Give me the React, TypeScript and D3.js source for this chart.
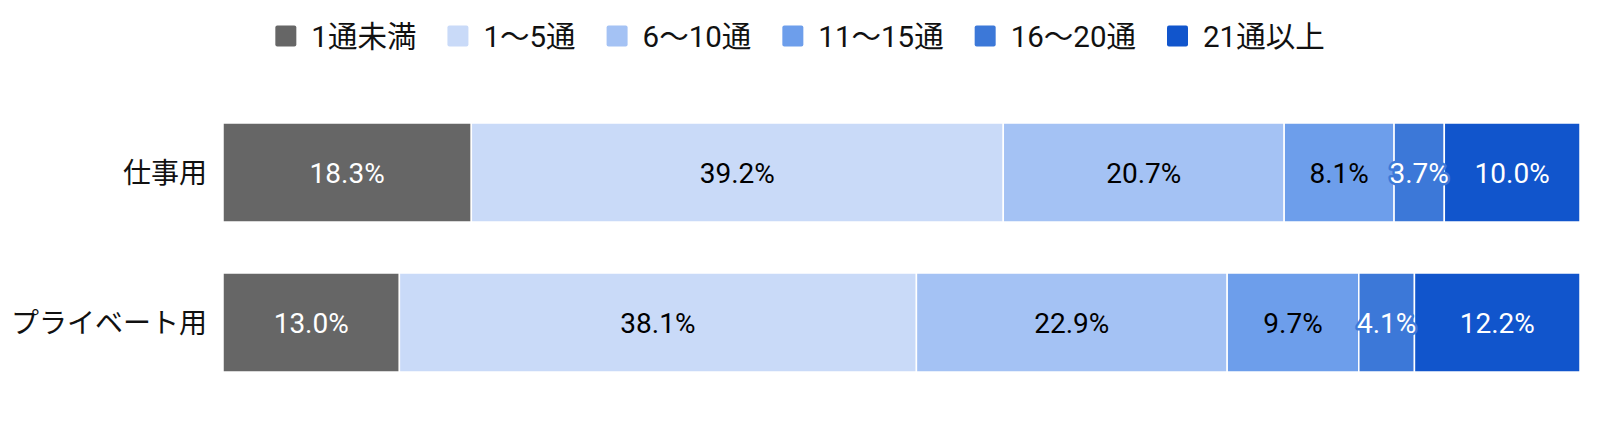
import React, { useEffect, useRef } from 'react';
import * as d3 from 'd3';

const categories = ['仕事用', 'プライベート用'];
const seriesNames = ['1通未満', '1～5通', '6～10通', '11～15通', '16～20通', '21通以上'];
const seriesColors = ['#666666', '#c9daf8', '#a4c2f4', '#6d9eeb', '#3c78d8', '#1155cc'];
const labelColors = ['#ffffff', '#000000', '#000000', '#000000', '#ffffff', '#ffffff'];
const workValues = [18.3, 39.2, 20.7, 8.1, 3.7, 10.0];
const privateValues = [13.0, 38.1, 22.9, 9.7, 4.1, 12.2];

const WIDTH = 1600;
const HEIGHT = 448;
const FONT = "Roboto, 'Noto Sans CJK JP', sans-serif";
const FONT_SIZE = 28;

interface Row {
    category: string;
    [key: string]: number | string;
}

export default function App() {
    const svgRef = useRef<SVGSVGElement>(null);

    useEffect(() => {
        if (!svgRef.current) return;
        const svg = d3.select(svgRef.current);
        svg.selectAll('*').remove();

        const plot = { top: 123, bottom: 372, left: 223, right: 1580 };

        const rows: Row[] = categories.map((c, i) => {
            const vals = i === 0 ? workValues : privateValues;
            const r: Row = { category: c };
            seriesNames.forEach((s, j) => { r[s] = vals[j]; });
            return r;
        });

        const stacked = d3.stack<Row>().keys(seriesNames)(rows);

        const x = d3.scaleLinear()
            .domain([0, 100])
            .range([plot.left, plot.right]);

        const y = d3.scaleBand<string>()
            .domain(categories)
            .range([plot.top, plot.bottom])
            .paddingInner(0.34)
            .paddingOuter(0);

        // Bars
        const layer = svg.append('g')
            .selectAll('g')
            .data(stacked)
            .join('g')
            .attr('fill', (_d, i) => seriesColors[i]);

        layer.selectAll('rect')
            .data(d => d.map(p => ({ p, key: d.key })))
            .join('rect')
            .attr('x', d => x(d.p[0]))
            .attr('y', d => y(d.p.data.category as string)!)
            .attr('width', d => x(d.p[1]) - x(d.p[0]))
            .attr('height', y.bandwidth())
            .attr('stroke', '#ffffff')
            .attr('stroke-width', 1.5);

        // Value labels
        stacked.forEach((s, i) => {
            svg.append('g')
                .selectAll('text')
                .data(s)
                .join('text')
                .attr('x', d => (x(d[0]) + x(d[1])) / 2)
                .attr('y', d => y(d.data.category as string)! + y.bandwidth() / 2)
                .attr('dy', '0.36em')
                .attr('text-anchor', 'middle')
                .attr('font-family', FONT)
                .attr('font-size', FONT_SIZE)
                .attr('fill', labelColors[i])
                .attr('stroke', (d) => (x(d[1]) - x(d[0]) < 70 ? seriesColors[i] : 'none'))
                .attr('stroke-width', 5)
                .attr('stroke-linejoin', 'round')
                .attr('paint-order', 'stroke')
                .text(d => `${(d[1] - d[0]).toFixed(1)}%`);
        });

        // Category labels
        svg.append('g')
            .selectAll('text')
            .data(categories)
            .join('text')
            .attr('x', plot.left - 16)
            .attr('y', d => y(d)! + y.bandwidth() / 2)
            .attr('dy', '0.36em')
            .attr('text-anchor', 'end')
            .attr('font-family', FONT)
            .attr('font-size', FONT_SIZE)
            .attr('fill', '#111111')
            .text(d => d);

        // Legend, centred on the page
        const legend = svg.append('g');
        const sq = 21;
        const gapText = 15;
        const gapItem = 31;
        const items = legend.selectAll('g')
            .data(seriesNames)
            .join('g');
        items.append('rect')
            .attr('width', sq)
            .attr('height', sq)
            .attr('rx', 2)
            .attr('y', -sq / 2)
            .attr('fill', (_d, i) => seriesColors[i]);
        const labels = items.append('text')
            .attr('x', sq + gapText)
            .attr('dy', '0.36em')
            .attr('font-family', FONT)
            .attr('font-size', 29.5)
            .attr('fill', '#111111')
            .text(d => d);

        const widths: number[] = [];
        labels.each(function () { widths.push((this as SVGTextElement).getComputedTextLength()); });
        const itemW = widths.map(w => sq + gapText + w);
        const total = d3.sum(itemW) + gapItem * (itemW.length - 1);
        let cx = WIDTH / 2 - total / 2;
        items.attr('transform', (_d, i) => {
            const t = `translate(${cx},36)`;
            cx += itemW[i] + gapItem;
            return t;
        });
    }, []);

    return (
        <svg
            ref={svgRef}
            width={WIDTH}
            height={HEIGHT}
            style={{ position: 'absolute', left: 0, top: 0, background: '#ffffff' }}
        />
    );
}
